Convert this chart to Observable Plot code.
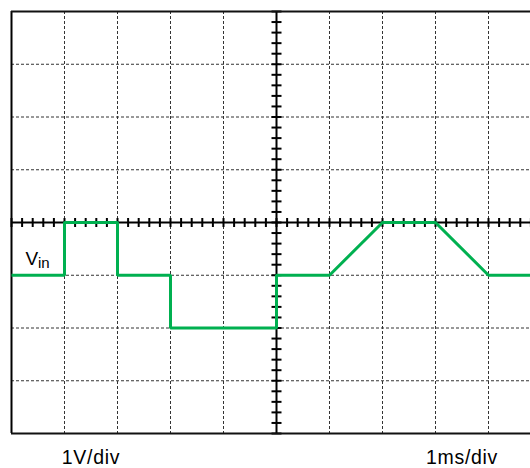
<!DOCTYPE html>
<html>
<head>
<meta charset="utf-8">
<script src="https://cdn.jsdelivr.net/npm/d3@7"></script>
<script src="https://cdn.jsdelivr.net/npm/@observablehq/plot@0.6"></script>
<style>
  html, body { margin: 0; padding: 0; background: #fff; overflow: hidden; }
</style>
</head>
<body>
<div id="chart"></div>
<script>
// Signal (time in ms / divisions, voltage in V / divisions)
const signalT = [-5, -4, -4, -3, -3, -2, -2, 0, 0, 1, 2, 3, 4, 5];
const signalV = [-1, -1, 0, 0, -1, -1, -2, -2, -1, -1, 0, 0, -1, -1];

// Grid divisions
const gridX = [-4, -3, -2, -1, 1, 2, 3, 4];
const gridY = [-3, -2, -1, 1, 2, 3];
const minorX = d3.range(-25, 26).map(i => i / 5);
const minorY = d3.range(-20, 21).map(i => i / 5);

// Labels
const scaleLabels = [
  {x: -3.5, text: "1V/div"},
  {x: 3.5, text: "1ms/div"}
];
const signalName = "V";
const signalSub = "in";

const points = signalT.map((t, i) => ({t, v: signalV[i]}));

const vTick = {draw(ctx) { ctx.moveTo(0, -4.5); ctx.lineTo(0, 4.5); }};
const hTick = {draw(ctx) { ctx.moveTo(-5, 0); ctx.lineTo(5, 0); }};

const font = "'Liberation Sans', Arial, sans-serif";

const chart = Plot.plot({
  width: 530,
  height: 468,
  marginLeft: 11,
  marginRight: -11,
  marginTop: 11,
  marginBottom: 35,
  x: {domain: [-5, 5], axis: null},
  y: {domain: [-4, 4], axis: null},
  style: {background: "#fff", fontFamily: font, overflow: "hidden"},
  marks: [
    Plot.ruleX(gridX, {stroke: "#333", strokeWidth: 1, strokeDasharray: "3,2"}),
    Plot.ruleY(gridY, {stroke: "#333", strokeWidth: 1, strokeDasharray: "3,2"}),
    Plot.ruleX([0], {stroke: "#000", strokeWidth: 2}),
    Plot.ruleY([0], {stroke: "#000", strokeWidth: 2}),
    Plot.dot(minorX, {x: d => d, y: 0, symbol: vTick, stroke: "#000", strokeWidth: 2, fill: "none"}),
    Plot.dot(minorY, {x: 0, y: d => d, symbol: hTick, stroke: "#000", strokeWidth: 2, fill: "none"}),
    Plot.ruleX([-5], {stroke: "#000", strokeWidth: 2}),
    Plot.ruleY([4, -4], {stroke: "#111", strokeWidth: 2}),
    Plot.line(points, {x: "t", y: "v", stroke: "#00b050", strokeWidth: 3, strokeLinejoin: "miter", strokeLinecap: "butt"}),
    Plot.text([signalName], {x: -5, y: -1, text: d => d, dx: 14, dy: -10, textAnchor: "start", lineAnchor: "bottom", fontSize: 19, fill: "#000"}),
    Plot.text([signalSub], {x: -5, y: -1, text: d => d, dx: 26.5, dy: -7.5, textAnchor: "start", lineAnchor: "bottom", fontSize: 15, fill: "#000"}),
    Plot.text(scaleLabels, {x: "x", y: -4, text: "text", dy: 30.5, lineAnchor: "bottom", fontSize: 19.5, fill: "#000"})
  ]
});
chart.querySelectorAll("text").forEach(t => {
  if (/div/.test(t.textContent)) t.style.letterSpacing = "0.7px";
});
document.getElementById("chart").appendChild(chart);
</script>
</body>
</html>
